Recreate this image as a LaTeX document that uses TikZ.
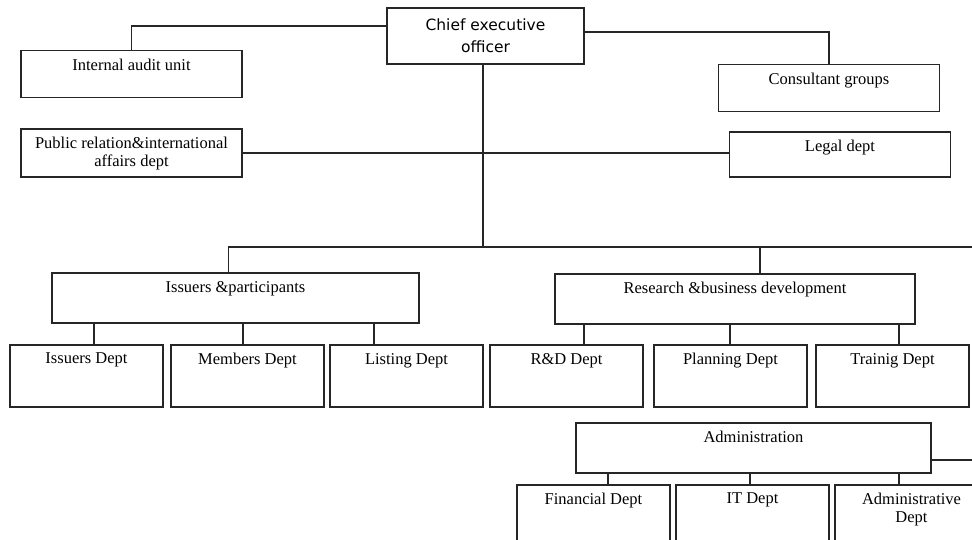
\documentclass[tikz,border=0pt]{standalone}
\usepackage{fontspec}
\setmainfont{Liberation Serif}
\newfontfamily\ceofont{DejaVu Sans}
\usepackage{tikz}

\begin{document}
\begin{tikzpicture}[x=1pt,y=-1pt,
  link/.style={draw=black!85,line width=1.2pt},
  box/.style={draw=black!85,line width=1.2pt,inner sep=0pt},
  ttl/.style={anchor=north,inner sep=0pt,yshift=-8.5pt,align=center,font=\fontsize{16.5}{18}\selectfont},
  side/.style={box,minimum width=221pt,minimum height=47pt},
  head/.style={box,minimum width=360pt,minimum height=50pt},
  dept/.style={box,minimum width=153pt,minimum height=62pt}]
\clip (0,0) rectangle (972,539);
\node[box,minimum width=197pt,minimum height=56pt,align=center,font=\ceofont\fontsize{15.5}{22}\selectfont] (ceo) at (485.5,36) {Chief executive\\officer};
\node[side,label={[ttl]north:Internal audit unit}] (audit) at (131.5,74) {};
\node[side,minimum height=48pt,label={[ttl]north:Public relation\&international\\affairs dept}] (pr) at (131.5,153) {};
\node[side,label={[ttl]north:Consultant groups}] (cons) at (829,88) {};
\node[side,minimum height=45pt,label={[ttl]north:Legal dept}] (legal) at (840,154.5) {};

\node[head,minimum width=367pt,label={[ttl]north:Issuers \&participants}] (issp) at (235.5,298) {};
\node[head,label={[ttl]north:Research \&business development}] (rbd) at (735,299) {};
\node[head,minimum width=355pt,label={[ttl]north:Administration}] (adm) at (753.5,448) {};

\node[dept,label={[ttl]north:Issuers Dept}] (isd) at (86.5,376) {};
\node[dept,label={[ttl]north:Members Dept}] (mem) at (247.5,376) {};
\node[dept,label={[ttl]north:Listing Dept}] (lst) at (406.5,376) {};
\node[dept,label={[ttl]north:R\&D Dept}] (rnd) at (566.5,376) {};
\node[dept,label={[ttl]north:Planning Dept}] (pln) at (730.5,376) {};
\node[dept,label={[ttl]north:Trainig Dept}] (trn) at (892.5,376) {};
\node[dept,label={[ttl]north:Financial Dept}] (fin) at (593.5,516) {};
\node[dept,label={[ttl]north:IT Dept}] (itd) at (752.5,516) {};
\node[dept,label={[ttl]north:Administrative\\Dept}] (adt) at (911.5,516) {};

\coordinate (bus) at (972,247);
\coordinate (admend) at (972,460);
\draw[link] ([yshift=10pt]ceo.west) -| (audit.north);
\draw[link] ([yshift=4pt]ceo.east) -| (cons.north);
\draw[link] (pr.east) -- (pr.east -| legal.west);
\draw[link] ([xshift=-2.5pt]ceo.south) -- ([xshift=-2.5pt]ceo.south |- bus);
\draw[link] ([xshift=-7pt]issp.north) |- (bus);
\draw[link] ([xshift=25pt]rbd.north) -- ([xshift=25pt]rbd.north |- bus);
\draw[link] (adm.east |- admend) -- (admend);
\foreach \c/\x in {isd/94,mem/243,lst/374}
  \draw[link] (\x,0 |- issp.south) -- (\x,0 |- \c.north);
\foreach \c/\x in {rnd/584,pln/730,trn/899}
  \draw[link] (\x,0 |- rbd.south) -- (\x,0 |- \c.north);
\foreach \c/\x in {fin/608,itd/750,adt/899}
  \draw[link] (\x,0 |- adm.south) -- (\x,0 |- \c.north);
\end{tikzpicture}
\end{document}
